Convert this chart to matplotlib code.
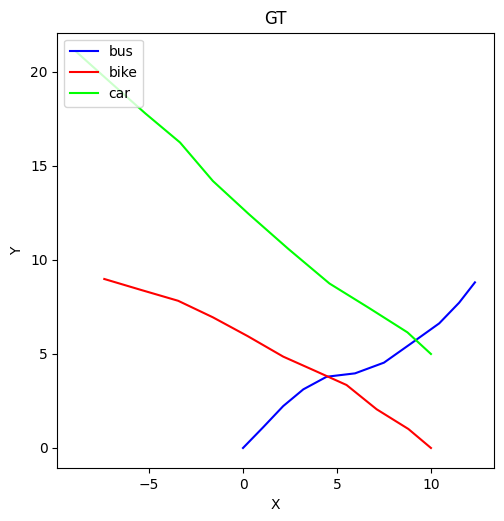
import matplotlib.pyplot as plt

bus_x = [0, 1.07, 2.14, 3.21, 4.45, 5.96, 7.5, 9.0, 10.44, 11.5, 12.34]
bus_y = [0, 1.1, 2.23, 3.12, 3.79, 3.97, 4.54, 5.6, 6.63, 7.73, 8.81]

bike_x = [-7.38, -5.4, -3.45, -1.6, 0.25, 2.14, 3.8, 5.51, 7.11, 8.8, 10.0]
bike_y = [8.99, 8.4, 7.83, 6.95, 5.95, 4.86, 4.12, 3.35, 2.06, 1.01, 0.0]

car_x = [-8.9, -7.0, -5.2, -3.35, -1.6, 0.3, 2.4, 4.6, 6.7, 8.75, 10.0]
car_y = [21.1, 19.4, 17.8, 16.25, 14.2, 12.45, 10.6, 8.75, 7.45, 6.15, 5.0]

fig = plt.figure(figsize=(5.04, 5.21), dpi=100)
ax = fig.add_axes([57.3 / 504, 52.7 / 521, 437 / 504, 435.6 / 521])

ax.plot(bus_x, bus_y, color='blue', label='bus')
ax.plot(bike_x, bike_y, color='red', label='bike')
ax.plot(car_x, car_y, color='lime', label='car')

ax.set_xlim(-9.88, 13.37)
ax.set_ylim(-1.08, 22.09)
ax.set_title('GT')
ax.set_xlabel('X')
ax.set_ylabel('Y')
ax.legend(loc='upper left')

fig.savefig('out.png', dpi=100)
